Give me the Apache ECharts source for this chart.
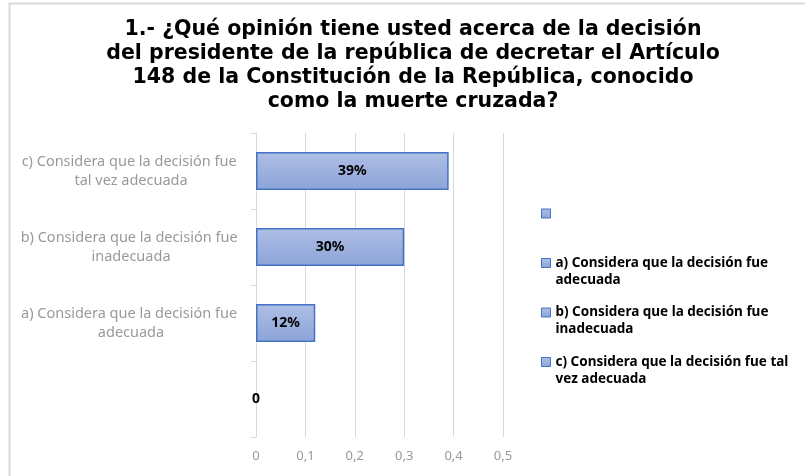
<!DOCTYPE html>
<html>
<head>
<meta charset="utf-8">
<script src="https://cdn.jsdelivr.net/npm/echarts@6/dist/echarts.min.js"></script>
<style>
	html, body { margin: 0; padding: 0; background: #fff; }
	#main { width: 805px; height: 476px; }
</style>
</head>
<body>
<div id="main"></div>
<script>
/*
 *  ========== 数据 ==========
 */
var titulo = '1.- ¿Qué opinión tiene usted acerca de la decisión\ndel presidente de la república de decretar el Artículo\n148 de la Constitución de la República, conocido\ncomo la muerte cruzada?';

// categorias, de abajo hacia arriba (la primera está vacía)
var categorias = [
	'',
	'a) Considera que la decisión fue adecuada',
	'b) Considera que la decisión fue inadecuada',
	'c) Considera que la decisión fue tal vez adecuada'
];
// texto de la leyenda, con los saltos de linea del original
var textoLeyenda = [
	'',
	'a) Considera que la decisión fue\nadecuada',
	'b) Considera que la decisión fue\ninadecuada',
	'c) Considera que la decisión fue tal\nvez adecuada'
];
var valores = [0, 0.12, 0.30, 0.39];
var ticksX = [0, 0.1, 0.2, 0.3, 0.4, 0.5];

/*
 *  ========== fin datos ==========
 */

var myChart = echarts.init(document.getElementById('main'));

var colorBarra = new echarts.graphic.LinearGradient(0, 0, 0, 1, [
	{ offset: 0, color: '#afbfe5' },
	{ offset: 1, color: '#8ca4d8' }
]);

var nombres = categorias.map(function(c) { return c || ' '; });

// una serie por categoria, apiladas para que queden en su fila
var series = [];
for (var i = 0; i < categorias.length; i++) {
	var data = [];
	for (var j = 0; j < categorias.length; j++) {
		if (j !== i) {
			data.push('-');
		} else if (valores[i] === 0) {
			// barra vacia: sin borde, solo la etiqueta "0"
			data.push({ value: 0, itemStyle: { borderWidth: 0 } });
		} else {
			data.push(valores[i]);
		}
	}
	series.push({
		name: nombres[i],
		type: 'bar',
		stack: 'total',
		barWidth: '50%',
		data: data,
		itemStyle: {
			color: colorBarra,
			borderColor: '#4472c4',
			borderWidth: 1.5
		},
		label: {
			show: true,
			position: 'inside',
			color: '#000',
			fontFamily: 'Noto Sans',
			fontWeight: 'bold',
			fontSize: 14,
			formatter: function(p) {
				if (p.value === 0) return '0';
				return Math.round(p.value * 100) + '%';
			}
		}
	});
}

var option = {
	animation: false,
	title: {
		text: titulo,
		left: 408,
		top: 13,
		textAlign: 'center',
		textStyle: {
			fontFamily: 'DejaVu Sans',
			fontWeight: 'bold',
			fontSize: 20.5,
			lineHeight: 24,
			color: '#000'
		}
	},
	graphic: [{
		type: 'rect',
		shape: { x: 9.5, y: 3.5, width: 820, height: 500 },
		style: { fill: 'none', stroke: '#d9d9d9', lineWidth: 2 },
		silent: true
	}],
	legend: {
		orient: 'vertical',
		left: 541,
		top: 188,
		padding: 0,
		itemGap: -1.5,
		itemWidth: 9,
		itemHeight: 9,
		icon: 'rect',
		itemStyle: {
			color: colorBarra,
			borderColor: '#4472c4',
			borderWidth: 1
		},
		data: nombres,
		formatter: function(name) {
			// una linea vacia arriba para que la primera linea quede junto al icono
			var t = textoLeyenda[nombres.indexOf(name)] || ' \n ';
			return ' \n' + t;
		},
		textStyle: {
			fontFamily: 'Noto Sans',
			fontWeight: 'bold',
			fontSize: 13.5,
			color: '#000',
			lineHeight: 17
		}
	},
	grid: {
		left: 256,
		top: 133,
		width: 247,
		height: 304
	},
	xAxis: {
		type: 'value',
		min: ticksX[0],
		max: ticksX[ticksX.length - 1],
		interval: 0.1,
		axisLine: { show: false },
		axisTick: { show: false },
		splitLine: { lineStyle: { color: '#d9d9d9', width: 1 } },
		axisLabel: {
			margin: 13,
			color: '#999',
			fontFamily: 'Noto Sans',
			fontSize: 13,
			formatter: function(v) {
				return String(Math.round(v * 10) / 10).replace('.', ',');
			}
		}
	},
	yAxis: {
		type: 'category',
		data: categorias,
		axisLine: { lineStyle: { color: '#d9d9d9', width: 1 } },
		axisTick: { show: true, length: 5, lineStyle: { color: '#d9d9d9' } },
		axisLabel: {
			margin: 125,
			align: 'center',
			color: '#999',
			fontFamily: 'Noto Sans',
			fontSize: 14.5,
			lineHeight: 19,
			width: 228,
			overflow: 'break'
		}
	},
	series: series
};

myChart.setOption(option);
</script>
</body>
</html>
